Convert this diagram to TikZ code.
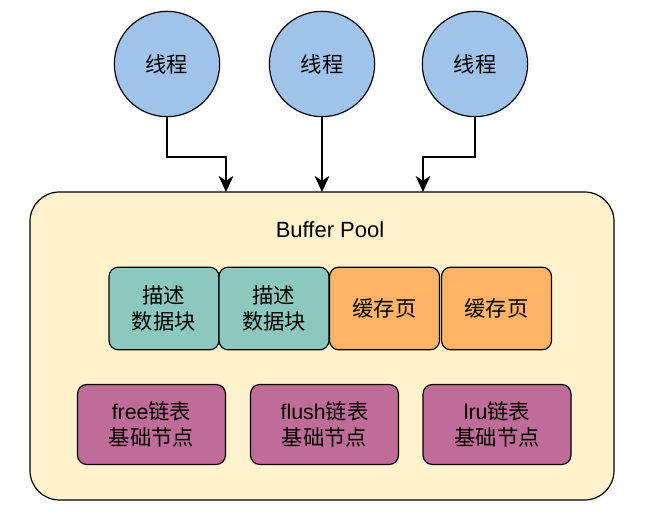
\documentclass[tikz,border=0pt]{standalone}
\usepackage{fontspec}
\setmainfont{Liberation Sans}
\newfontfamily\cjk{Noto Sans CJK SC}
\usetikzlibrary{arrows.meta}
\definecolor{threadblue}{HTML}{A0C3EA}
\definecolor{poolyellow}{HTML}{FFF2CC}
\definecolor{descgreen}{HTML}{8CC8BE}
\definecolor{pageorange}{HTML}{FFB366}
\definecolor{listpurple}{HTML}{C06C98}
\begin{document}
\begin{tikzpicture}[x=0.75pt,y=-0.75pt,line width=0.9pt,>={Stealth[length=12pt,width=11pt,inset=3.5pt]},
    thread/.style={draw, circle, fill=threadblue, minimum size=79pt, inner sep=0pt, text=black, font=\cjk\fontsize{16}{19}\selectfont},
    block/.style={draw, rounded corners=7pt, minimum width=82.5pt, minimum height=62pt, align=center, inner sep=0pt, font=\cjk\fontsize{16}{19}\selectfont},
    listnode/.style={draw, rounded corners=7pt, fill=listpurple, minimum width=111pt, minimum height=60pt, align=center, inner sep=0pt, font=\fontsize{16}{19}\selectfont}]
    \useasboundingbox (0,0) rectangle (662,524);

    \node[draw, rounded corners=22pt, fill=poolyellow, minimum width=438pt, minimum height=231pt] (pool) at (322,346) {};
    \node[font=\fontsize{16.5}{19}\selectfont] (title) at (330,230) {Buffer Pool};

    \node[thread] (t1) at (167,64) {线程};
    \node[thread] (t2) at (322,64) {线程};
    \node[thread] (t3) at (475,64) {线程};

    \coordinate (in1) at (226,192);
    \coordinate (in2) at (322,192);
    \coordinate (in3) at (423,192);

    \draw [->] (t1.south) |- (226,157) -- (in1);
    \draw [->] (t2.south) -- (in2);
    \draw [->] (t3.south) |- (423,157) -- (in3);

    \node[block, fill=descgreen] (d1) at (164,308.5) {描述\\数据块};
    \node[block, fill=descgreen] (d2) at (274,308.5) {描述\\数据块};
    \node[block, fill=pageorange] (c1) at (384.5,308.5) {缓存页};
    \node[block, fill=pageorange] (c2) at (496.5,308.5) {缓存页};

    \node[listnode] (free) at (151.5,424.5) {free{\cjk 链表}\\{\cjk 基础节点}};
    \node[listnode] (flush) at (324.5,424.5) {flush{\cjk 链表}\\{\cjk 基础节点}};
    \node[listnode] (lru) at (497,424.5) {lru{\cjk 链表}\\{\cjk 基础节点}};
\end{tikzpicture}
\end{document}
